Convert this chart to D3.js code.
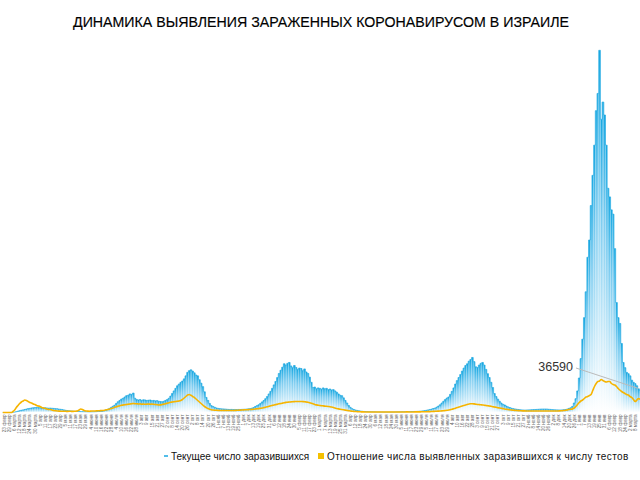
<!DOCTYPE html>
<html><head><meta charset="utf-8">
<script src="https://cdn.jsdelivr.net/npm/d3@7"></script>
<style>html,body{margin:0;padding:0;background:#fff;}svg{display:block;}</style>
</head><body>
<svg id="c" width="640" height="480"></svg>
<script>
// ---- DATA ----
const title = "ДИНАМИКА ВЫЯВЛЕНИЯ ЗАРАЖЕННЫХ КОРОНАВИРУСОМ В ИЗРАИЛЕ";
const seriesNames = ["Текущее число заразившихся", "Отношение числа выявленных заразившихся к числу тестов"];
const startDate = "2020-02-21";   // first bar
const stepDays = 2;               // each bar = 2 days
const monthsRu = ["янв","февр","марта","апр","мая","июня","июля","авг","сент","окт","нояб","дек"];
const annotationValue = 36590;

// new cases (per bar)
const cases = [
0,0,0,0,5,15,40,90,180,300,
420,520,600,700,800,900,950,1050,1100,1150,
1180,1150,1120,1100,1080,1100,1050,1000,1020,980,
950,900,880,800,750,700,600,520,450,400,
360,320,280,250,230,220,200,190,180,170,
160,150,150,160,170,190,220,260,300,350,
450,600,750,950,1200,1450,1700,2100,2500,2800,
3100,3300,3600,3900,4000,4300,4200,4500,3300,3000,
2900,3000,2800,2950,2900,2800,2850,2900,2750,2800,
2700,2750,2600,2550,2500,2600,2800,3000,3300,3800,
4400,5000,5600,6200,6600,7000,7300,7800,8500,9300,
9700,9900,9600,9200,8700,8500,7600,6800,6000,4800,
3500,2800,2100,1600,1400,1200,1050,950,900,850,
820,800,760,720,700,720,680,700,690,710,
700,720,740,760,800,850,900,1000,1150,1390,
1600,1800,2100,2450,2780,3200,3700,4300,4900,5600,
6400,7200,8100,9050,9800,10500,11300,11000,11400,11600,
10800,10400,10900,10440,10000,10300,10200,9700,10100,9400,
9050,8200,7000,5800,5900,5500,5700,5600,5400,5700,
5500,5600,5300,5450,5200,5300,5000,4700,4300,4000,
3900,3400,2800,2200,1620,1200,900,700,580,480,
400,330,280,240,210,190,170,160,150,140,
130,120,120,110,110,100,100,100,110,100,
100,110,120,130,140,150,160,170,180,200,
210,220,230,240,250,270,300,330,380,450,
520,600,700,800,930,1040,1250,1500,1800,2200,
2600,3000,3350,3600,4200,4900,5700,6600,7400,8120,
8800,9600,10300,10900,11300,11900,12300,12760,11800,10600,
10440,11000,11400,11600,11000,10000,9000,8120,7000,5800,
4400,3700,3100,2600,2200,1900,1740,1500,1300,1150,
1000,900,820,760,700,650,600,580,560,580,
600,620,650,680,700,720,750,780,800,810,
810,800,750,720,680,650,620,600,590,580,
600,650,700,800,950,1100,1400,2200,3200,5000,
8000,12500,17000,22000,28000,36000,40000,48000,55000,62000,
70000,74000,84000,68000,72000,69000,62000,52000,50000,47000,
46000,38000,25500,22000,20650,16000,11600,10400,9300,9000,
8500,7500,7000,6700,6200,5500,5100
];

// positivity, % of tests (per bar)
const positivity = [
0,0,0,0,0,0,1,2.5,5,7,
9,10.5,11.5,12.5,12,11,10,9.5,8.5,8,
7,6.5,6,5,4.5,4,3.5,3,3,2.5,
2,1.8,1.5,1.4,1.3,1.2,1.2,1.2,1.1,1.2,
1.2,1.1,1.2,1.3,1.5,2.5,3.5,3,2,1.5,
1.4,1.3,1.4,1.5,1.5,1.6,1.7,1.8,1.9,2,
2.3,2.7,3,3.5,4,4.5,5.2,5.8,6.3,6.8,
7.2,7.5,7.8,8,8.3,8.5,8.8,9,8.8,8.7,
8.5,8.6,8.3,8.5,8.2,8.4,8.5,8.3,8.5,8.2,
8,7.8,7.5,7.6,8,8.4,8.8,9.3,9.8,10.2,
10.5,10.8,11,11.3,11.5,12,13,14.5,16,17.5,
18,17.2,16,15,13.5,12,10.5,9,7.5,6,
5,4,3.3,2.8,2.5,2.3,2.2,2.1,2,2,
2,2,2,2,2,2,2,2.1,2.2,2.3,
2.4,2.5,2.6,2.7,2.8,2.9,3,3.1,3.3,3.5,
3.7,3.9,4.2,4.5,4.9,5.3,5.7,6.2,6.7,7.1,
7.5,7.9,8.3,8.7,9,9.4,9.8,10.1,10.3,10.5,
10.6,10.8,10.9,11,11,11,11,10.9,10.8,10.5,
10.2,9.8,9.3,8.7,8,7.6,7.3,7,6.8,6.6,
6.4,6.2,6,5.8,5.5,5,4.5,4,3.6,3.3,
3,2.7,2.4,2.1,1.8,1.5,1.3,1.1,1,0.9,
0.8,0.7,0.6,0.6,0.5,0.5,0.5,0.5,0.5,0.5,
0.5,0.5,0.5,0.5,0.5,0.5,0.5,0.5,0.5,0.5,
0.5,0.5,0.5,0.5,0.5,0.5,0.5,0.5,0.6,0.6,
0.5,0.5,0.55,0.6,0.6,0.6,0.65,0.7,0.7,0.75,
0.8,0.85,0.9,1,1.1,1.2,1.3,1.4,1.5,1.6,
1.8,2,2.2,2.5,2.9,3.3,3.8,4.3,4.9,5.5,
6,6.5,7,7.5,8,8.5,8.7,8.8,8.6,8.3,
8,7.9,7.7,7.5,7.3,7,6.8,6.5,6.2,5.8,
5.5,5.2,4.8,4.5,4.2,3.9,3.5,3.2,3,2.7,
2.5,2.3,2.1,2,1.9,1.8,1.7,1.6,1.6,1.5,
1.5,1.5,1.5,1.5,1.5,1.5,1.5,1.5,1.5,1.5,
1.5,1.5,1.5,1.5,1.5,1.5,1.5,1.5,1.6,1.7,
1.8,2,2.2,2.6,3,3.3,3.6,4.5,6,8,
10,11.5,12.5,14,15.5,16,17,18,22,26,
29,31,31.5,33,32,31,30.5,31,31,29,
28,27.5,26,24,22.5,21,20,19,18,17.5,
16,15,13,11,12.5,14,13
];

// ---- CHART ----
const W = 640, H = 480;
const svg = d3.select("#c");
const parse = d3.timeParse("%Y-%m-%d");
const dates = cases.map((_, i) => d3.timeDay.offset(parse(startDate), i * stepDays));
const fmt = d => `${d.getDate()} ${monthsRu[d.getMonth()]}`;

const baseY = 412.5;
const x = d3.scaleBand().domain(dates).range([2, 641]).paddingInner(0.12);
const y = d3.scaleLinear().domain([0, 85000]).range([baseY, 46]);
const y2 = d3.scaleLinear().domain([0, 40]).range([baseY, baseY - 40]);

const defs = svg.append("defs");
const g = defs.append("linearGradient").attr("id", "barGrad")
  .attr("x1", 0).attr("y1", 0).attr("x2", 0).attr("y2", 1);
g.append("stop").attr("offset", "0%").attr("stop-color", "#18a8e2");
g.append("stop").attr("offset", "35%").attr("stop-color", "#7fcdf0");
g.append("stop").attr("offset", "100%").attr("stop-color", "#ffffff");

// title
svg.append("text").attr("x", 321).attr("y", 27).attr("text-anchor", "middle")
  .attr("font-family", "Liberation Sans, Arial, sans-serif").attr("font-size", 14.2)
  .attr("fill", "#000").attr("stroke", "#000").attr("stroke-width", 0.15).text(title);

// bars
svg.append("g").selectAll("rect").data(cases).join("rect")
  .attr("x", (d, i) => x(dates[i]))
  .attr("y", d => y(d))
  .attr("width", x.bandwidth())
  .attr("height", d => baseY - y(d))
  .attr("fill", "url(#barGrad)");

// top outline of bars
const topLine = d3.line()
  .x((d, i) => x(dates[i]) + x.bandwidth() / 2)
  .y(d => y(d))
  .curve(d3.curveStep);
svg.append("path").datum(cases).attr("d", topLine)
  .attr("fill", "none").attr("stroke", "#1ea9e1").attr("stroke-width", 0.9).attr("opacity", 0.75);

// positivity line
const posLine = d3.line()
  .x((d, i) => x(dates[i]) + x.bandwidth() / 2)
  .y(d => y2(d))
  .curve(d3.curveMonotoneX);
svg.append("path").datum(positivity).attr("d", posLine)
  .attr("fill", "none").attr("stroke", "#f6b400").attr("stroke-width", 1.6);

// x axis labels (only those that fit inside the picture)
const tickVals = dates.filter((d, i) => i % 3 === 1 && x(d) + x.bandwidth() / 2 < 636);
const xAxis = d3.axisBottom(x).tickValues(tickVals).tickFormat(fmt).tickSize(0).tickPadding(2);
const ax = svg.append("g").attr("transform", `translate(0,${baseY})`).call(xAxis);
ax.select(".domain").remove();
ax.selectAll("text")
  .attr("font-family", "Liberation Sans, Arial, sans-serif")
  .attr("font-size", 4.6).attr("fill", "#666")
  .attr("text-anchor", "end").attr("dy", "0.35em")
  .attr("transform", "translate(0,2) rotate(-90)")
  .attr("x", 0).attr("y", 0);

// annotation
const lastI = cases.length - 1;
svg.append("line")
  .attr("x1", 576).attr("y1", 368)
  .attr("x2", x(dates[lastI]) - 1).attr("y2", y(cases[lastI]) - 2)
  .attr("stroke", "#bbb").attr("stroke-width", 1);
svg.append("text").attr("x", 573).attr("y", 371).attr("text-anchor", "end")
  .attr("font-family", "Liberation Sans, Arial, sans-serif").attr("font-size", 12.5)
  .attr("fill", "#333").text(annotationValue);

// legend
const lg = svg.append("g").attr("font-family", "Liberation Sans, Arial, sans-serif")
  .attr("font-size", 10).attr("fill", "#111");
lg.append("rect").attr("x", 164).attr("y", 455).attr("width", 4).attr("height", 2).attr("fill", "#52bde9");
lg.append("text").attr("x", 171).attr("y", 460).text(seriesNames[0]);
lg.append("rect").attr("x", 318).attr("y", 453).attr("width", 6).attr("height", 6).attr("fill", "#f5c000");
lg.append("text").attr("x", 327).attr("y", 460).attr("letter-spacing", 0.36).text(seriesNames[1]);
</script>
</body></html>
